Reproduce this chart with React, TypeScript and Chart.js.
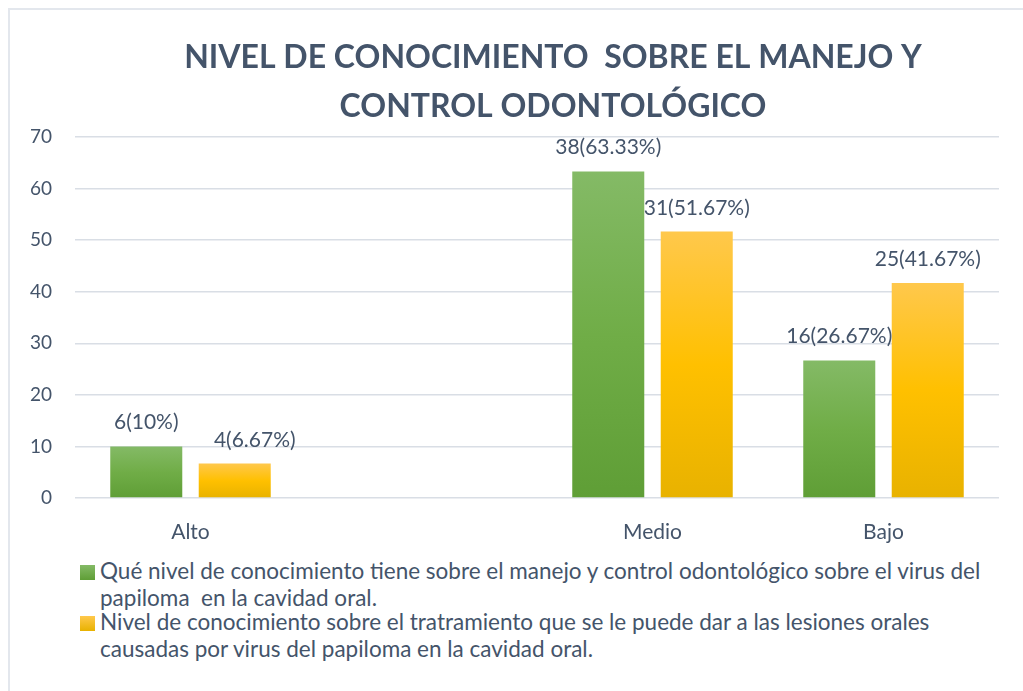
import React, { useEffect, useRef } from 'react';
import { Chart, registerables } from 'chart.js';

Chart.register(...registerables);

// ---- Data ----
const categories = ['Alto', '', 'Medio', 'Bajo'];
const titleLines = ['NIVEL DE CONOCIMIENTO  SOBRE EL MANEJO Y', 'CONTROL ODONTOLÓGICO'];
const seriesNames = [
  'Qué nivel de conocimiento tiene sobre el manejo y control odontológico sobre el virus del papiloma  en la cavidad oral.',
  'Nivel de conocimiento sobre el tratramiento que se le puede dar a las lesiones orales causadas por virus del papiloma en la cavidad oral.',
];
const manejoCounts = [6, null, 38, 16];
const manejoPercent = [10, null, 63.33, 26.67];
const tratamientoCounts = [4, null, 31, 25];
const tratamientoPercent = [6.67, null, 51.67, 41.67];
const yMin = 0;
const yMax = 70;
const yStep = 10;

// ---- Styles ----
const TEXT = '#44546a';
const FONT = 'Lato';
const greenStops = ['#84ba66', '#70ad47', '#5f9e36'];
const yellowStops = ['#ffc84c', '#ffc000', '#e8b200'];

function barGradient(stops: string[]) {
  return (c: any) => {
    const chart = c.chart;
    const y = chart.scales && chart.scales.y;
    if (!y || c.raw == null || c.type !== 'data') return stops[1];
    const top = y.getPixelForValue(c.raw);
    const base = y.getPixelForValue(0);
    if (!isFinite(top) || !isFinite(base) || top === base) return stops[1];
    const g = chart.ctx.createLinearGradient(0, top, 0, base);
    g.addColorStop(0, stops[0]);
    g.addColorStop(0.5, stops[1]);
    g.addColorStop(1, stops[2]);
    return g;
  };
}

const titlePlugin = {
  id: 'customTitle',
  afterDraw(chart: any) {
    const ctx = chart.ctx;
    ctx.save();
    ctx.font = `bold 32px ${FONT}`;
    ctx.fillStyle = TEXT;
    ctx.textAlign = 'center';
    ctx.textBaseline = 'alphabetic';
    titleLines.forEach((line, i) => ctx.fillText(line, 543, 58 + i * 49));
    ctx.restore();
  },
};

const countsBySeries = [manejoCounts, tratamientoCounts];
const percentBySeries = [manejoPercent, tratamientoPercent];
const labelShift: Record<string, number> = { '1-0': 20 };

const dataLabelPlugin = {
  id: 'dataLabels',
  afterDatasetsDraw(chart: any) {
    const ctx = chart.ctx;
    ctx.save();
    ctx.font = `21px ${FONT}`;
    ctx.fillStyle = TEXT;
    ctx.textAlign = 'center';
    ctx.textBaseline = 'alphabetic';
    chart.data.datasets.forEach((ds: any, di: number) => {
      const meta = chart.getDatasetMeta(di);
      meta.data.forEach((el: any, i: number) => {
        const v = ds.data[i];
        if (v == null) return;
        const text = `${countsBySeries[di][i]}(${percentBySeries[di][i]}%)`;
        const dx = labelShift[`${di}-${i}`] || 0;
        ctx.fillText(text, el.x + dx, el.y - 17);
      });
    });
    ctx.restore();
  },
};

export default function App() {
  const ref = useRef<HTMLCanvasElement>(null);

  useEffect(() => {
    if (!ref.current) return;
    const chart = new Chart(ref.current, {
      type: 'bar',
      data: {
        labels: categories,
        datasets: [
          {
            label: seriesNames[0],
            data: manejoPercent,
            backgroundColor: barGradient(greenStops),
            borderWidth: 0,
          },
          {
            label: seriesNames[1],
            data: tratamientoPercent,
            backgroundColor: barGradient(yellowStops),
            borderWidth: 0,
          },
        ],
      },
      options: {
        animation: false,
        responsive: false,
        maintainAspectRatio: false,
        layout: { padding: { left: 0, right: 16, top: 127, bottom: 0 } },
        datasets: { bar: { categoryPercentage: 0.766, barPercentage: 0.814 } },
        plugins: {
          legend: { display: false },
          title: { display: false },
          tooltip: { enabled: false },
        },
        scales: {
          x: {
            grid: { display: false },
            border: { display: false },
            ticks: { color: TEXT, font: { family: FONT, size: 21 }, padding: 14 },
            afterFit: (s: any) => {
              s.height = 52;
            },
          },
          y: {
            min: yMin,
            max: yMax,
            ticks: { stepSize: yStep, color: TEXT, font: { family: FONT, size: 19 }, padding: 23 },
            grid: { color: '#d9dee5', lineWidth: 1.5, drawTicks: false },
            border: { display: false },
            afterFit: (s: any) => {
              s.width = 65;
            },
          },
        },
      } as any,
      plugins: [titlePlugin, dataLabelPlugin],
    });
    return () => chart.destroy();
  }, []);

  const legendColors = [
    `linear-gradient(${greenStops[0]}, ${greenStops[2]})`,
    `linear-gradient(${yellowStops[0]}, ${yellowStops[2]})`,
  ];
  const legendTops = [547, 598];

  return (
    <div
      style={{
        position: 'fixed',
        left: 8,
        top: 8,
        width: 1015,
        height: 683,
        borderTop: '2px solid #e3e7ed',
        borderLeft: '2px solid #e3e7ed',
        boxSizing: 'border-box',
        background: '#fff',
      }}
    >
      <canvas ref={ref} width={1005} height={540} style={{ position: 'absolute', left: 0, top: 0 }} />
      {seriesNames.map((name, i) => (
        <div
          key={i}
          style={{
            position: 'absolute',
            left: 70,
            top: legendTops[i],
            display: 'flex',
            alignItems: 'flex-start',
          }}
        >
          <div style={{ width: 15, height: 15, marginTop: 8, marginRight: 5, background: legendColors[i], flex: 'none' }} />
          <div
            style={{
              width: 895,
              fontFamily: FONT,
              fontSize: 22.5,
              lineHeight: '27px',
              color: TEXT,
              whiteSpace: 'pre-wrap',
            }}
          >
            {name}
          </div>
        </div>
      ))}
    </div>
  );
}
